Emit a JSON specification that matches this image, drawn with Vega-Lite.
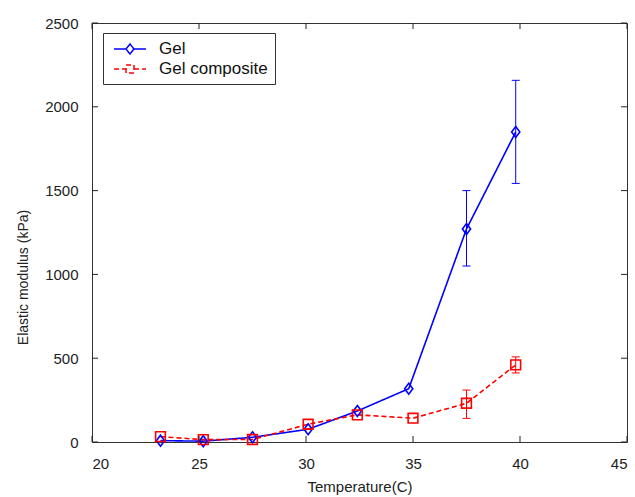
{
  "$schema": "https://vega.github.io/schema/vega-lite/v6.json",
  "width": 535,
  "height": 419,
  "autosize": "none",
  "padding": {"left": 92, "top": 23, "right": 8, "bottom": 55},
  "background": "white",
  "config": {
    "font": "Liberation Sans",
    "view": {"stroke": "#333333", "strokeWidth": 1},
    "axis": {
      "grid": false,
      "domain": false,
      "ticks": false,
      "labelColor": "#222222",
      "titleColor": "#222222",
      "labelFontSize": 15,
      "titleFontSize": 15,
      "titleFontWeight": "normal",
      "labelPadding": 14,
      "format": "d"
    }
  },
  "datasets": {
    "xticks": [{"v": 20}, {"v": 25}, {"v": 30}, {"v": 35}, {"v": 40}, {"v": 45}],
    "yticks": [{"v": 0}, {"v": 500}, {"v": 1000}, {"v": 1500}, {"v": 2000}, {"v": 2500}]
  },
  "data": {
    "values": [
      {"series": "Gel", "temp": 23.2, "mod": 8},
      {"series": "Gel", "temp": 25.2, "mod": 5},
      {"series": "Gel", "temp": 27.5, "mod": 28},
      {"series": "Gel", "temp": 30.1, "mod": 76},
      {"series": "Gel", "temp": 32.4, "mod": 185},
      {"series": "Gel", "temp": 34.8, "mod": 318},
      {"series": "Gel", "temp": 37.5, "mod": 1271, "lo": 1050, "hi": 1500},
      {"series": "Gel", "temp": 39.8, "mod": 1850, "lo": 1543, "hi": 2158},
      {"series": "Gel composite", "temp": 23.2, "mod": 32},
      {"series": "Gel composite", "temp": 25.2, "mod": 14},
      {"series": "Gel composite", "temp": 27.5, "mod": 15},
      {"series": "Gel composite", "temp": 30.1, "mod": 106},
      {"series": "Gel composite", "temp": 32.4, "mod": 162},
      {"series": "Gel composite", "temp": 35.0, "mod": 142},
      {"series": "Gel composite", "temp": 37.5, "mod": 231, "lo": 141, "hi": 310},
      {"series": "Gel composite", "temp": 39.8, "mod": 460, "lo": 412, "hi": 508}
    ]
  },
  "layer": [
    {
      "mark": {"type": "line", "strokeWidth": 1.6},
      "encoding": {
        "x": {"field": "temp", "type": "quantitative", "scale": {"domain": [20, 45], "nice": false, "zero": false},
              "axis": {"title": "Temperature(C)", "values": [20, 25, 30, 35, 40, 45], "titlePadding": 8}},
        "y": {"field": "mod", "type": "quantitative", "scale": {"domain": [0, 2500], "nice": false, "zero": false},
              "axis": {"title": "Elastic modulus (kPa)", "values": [0, 500, 1000, 1500, 2000, 2500], "titleFontSize": 14, "titlePadding": 14, "titleY": 254}},
        "color": {"field": "series", "type": "nominal",
                  "scale": {"domain": ["Gel", "Gel composite"], "range": ["#0000ff", "#ff0000"]},
                  "legend": {"title": null, "orient": "none", "legendX": 11, "legendY": 10,
                             "strokeColor": "#333333", "padding": 7, "rowPadding": 3,
                             "labelFontSize": 17, "labelColor": "#111111", "labelOffset": 20,
                             "symbolSize": 256, "symbolStrokeWidth": 1.5, "symbolOffset": 11,
                             "symbolFillColor": "transparent",
                             "fillColor": "white",
                             "encode": {"symbols": {"enter": {"fillOpacity": {"value": 0}}, "update": {"fill": {"value": "transparent"}, "fillOpacity": {"value": 0}, "opacity": {"value": 1}}}}}},
        "strokeDash": {"field": "series", "type": "nominal",
                       "scale": {"domain": ["Gel", "Gel composite"], "range": [[1, 0], [5, 3]]}}
      }
    },
    {
      "transform": [{"filter": "datum.lo != null"}],
      "mark": {"type": "rule", "strokeWidth": 1},
      "encoding": {
        "x": {"field": "temp", "type": "quantitative", "scale": {"domain": [20, 45], "nice": false, "zero": false}},
        "y": {"field": "lo", "type": "quantitative", "scale": {"domain": [0, 2500], "nice": false, "zero": false}},
        "y2": {"field": "hi"},
        "color": {"field": "series", "type": "nominal"}
      }
    },
    {
      "transform": [{"filter": "datum.lo != null"}],
      "mark": {"type": "tick", "orient": "horizontal", "size": 8, "thickness": 1, "opacity": 1},
      "encoding": {
        "x": {"field": "temp", "type": "quantitative", "scale": {"domain": [20, 45], "nice": false, "zero": false}},
        "y": {"field": "lo", "type": "quantitative", "scale": {"domain": [0, 2500], "nice": false, "zero": false}},
        "color": {"field": "series", "type": "nominal"}
      }
    },
    {
      "transform": [{"filter": "datum.lo != null"}],
      "mark": {"type": "tick", "orient": "horizontal", "size": 8, "thickness": 1, "opacity": 1},
      "encoding": {
        "x": {"field": "temp", "type": "quantitative", "scale": {"domain": [20, 45], "nice": false, "zero": false}},
        "y": {"field": "hi", "type": "quantitative", "scale": {"domain": [0, 2500], "nice": false, "zero": false}},
        "color": {"field": "series", "type": "nominal"}
      }
    },
    {
      "transform": [{"filter": "datum.series == 'Gel'"}],
      "mark": {"type": "point", "filled": false, "shape": "M0,-1L0.75,0L0,1L-0.75,0Z", "size": 120, "strokeWidth": 1.6, "color": "#0000ff", "opacity": 1},
      "encoding": {
        "x": {"field": "temp", "type": "quantitative", "scale": {"domain": [20, 45], "nice": false, "zero": false}},
        "y": {"field": "mod", "type": "quantitative", "scale": {"domain": [0, 2500], "nice": false, "zero": false}}
      }
    },
    {
      "transform": [{"filter": "datum.series == 'Gel composite'"}],
      "mark": {"type": "point", "filled": false, "shape": "square", "size": 95, "strokeWidth": 1.6, "color": "#ff0000", "opacity": 1},
      "encoding": {
        "x": {"field": "temp", "type": "quantitative", "scale": {"domain": [20, 45], "nice": false, "zero": false}},
        "y": {"field": "mod", "type": "quantitative", "scale": {"domain": [0, 2500], "nice": false, "zero": false}}
      }
    },
    {
      "transform": [{"filter": "false"}],
      "mark": {"type": "point", "filled": false, "opacity": 1},
      "encoding": {
        "x": {"field": "temp", "type": "quantitative", "scale": {"domain": [20, 45], "nice": false, "zero": false}},
        "y": {"field": "mod", "type": "quantitative", "scale": {"domain": [0, 2500], "nice": false, "zero": false}},
        "color": {"field": "series", "type": "nominal"},
        "shape": {"field": "series", "type": "nominal",
                  "scale": {"domain": ["Gel", "Gel composite"],
                            "range": ["M-2,0L-0.5,0M0.5,0L2,0M0,-0.62L0.5,0L0,0.62L-0.5,0Z",
                                      "M-2,0L-0.5,0M0.5,0L2,0M-0.5,-0.5L0.5,-0.5L0.5,0.5L-0.5,0.5Z"]}}
      }
    },
    {
      "data": {"name": "xticks"},
      "mark": {"type": "tick", "orient": "vertical", "size": 6, "thickness": 1, "yOffset": -3, "color": "#222222", "opacity": 1},
      "encoding": {
        "x": {"field": "v", "type": "quantitative", "scale": {"domain": [20, 45], "nice": false, "zero": false}},
        "y": {"datum": 0, "type": "quantitative", "scale": {"domain": [0, 2500], "nice": false, "zero": false}}
      }
    },
    {
      "data": {"name": "xticks"},
      "mark": {"type": "tick", "orient": "vertical", "size": 6, "thickness": 1, "yOffset": 3, "color": "#222222", "opacity": 1},
      "encoding": {
        "x": {"field": "v", "type": "quantitative", "scale": {"domain": [20, 45], "nice": false, "zero": false}},
        "y": {"datum": 2500, "type": "quantitative", "scale": {"domain": [0, 2500], "nice": false, "zero": false}}
      }
    },
    {
      "data": {"name": "yticks"},
      "mark": {"type": "tick", "orient": "horizontal", "size": 6, "thickness": 1, "xOffset": 3, "color": "#222222", "opacity": 1},
      "encoding": {
        "y": {"field": "v", "type": "quantitative", "scale": {"domain": [0, 2500], "nice": false, "zero": false}},
        "x": {"datum": 20, "type": "quantitative", "scale": {"domain": [20, 45], "nice": false, "zero": false}}
      }
    },
    {
      "data": {"name": "yticks"},
      "mark": {"type": "tick", "orient": "horizontal", "size": 6, "thickness": 1, "xOffset": -3, "color": "#222222", "opacity": 1},
      "encoding": {
        "y": {"field": "v", "type": "quantitative", "scale": {"domain": [0, 2500], "nice": false, "zero": false}},
        "x": {"datum": 45, "type": "quantitative", "scale": {"domain": [20, 45], "nice": false, "zero": false}}
      }
    }
  ]
}
